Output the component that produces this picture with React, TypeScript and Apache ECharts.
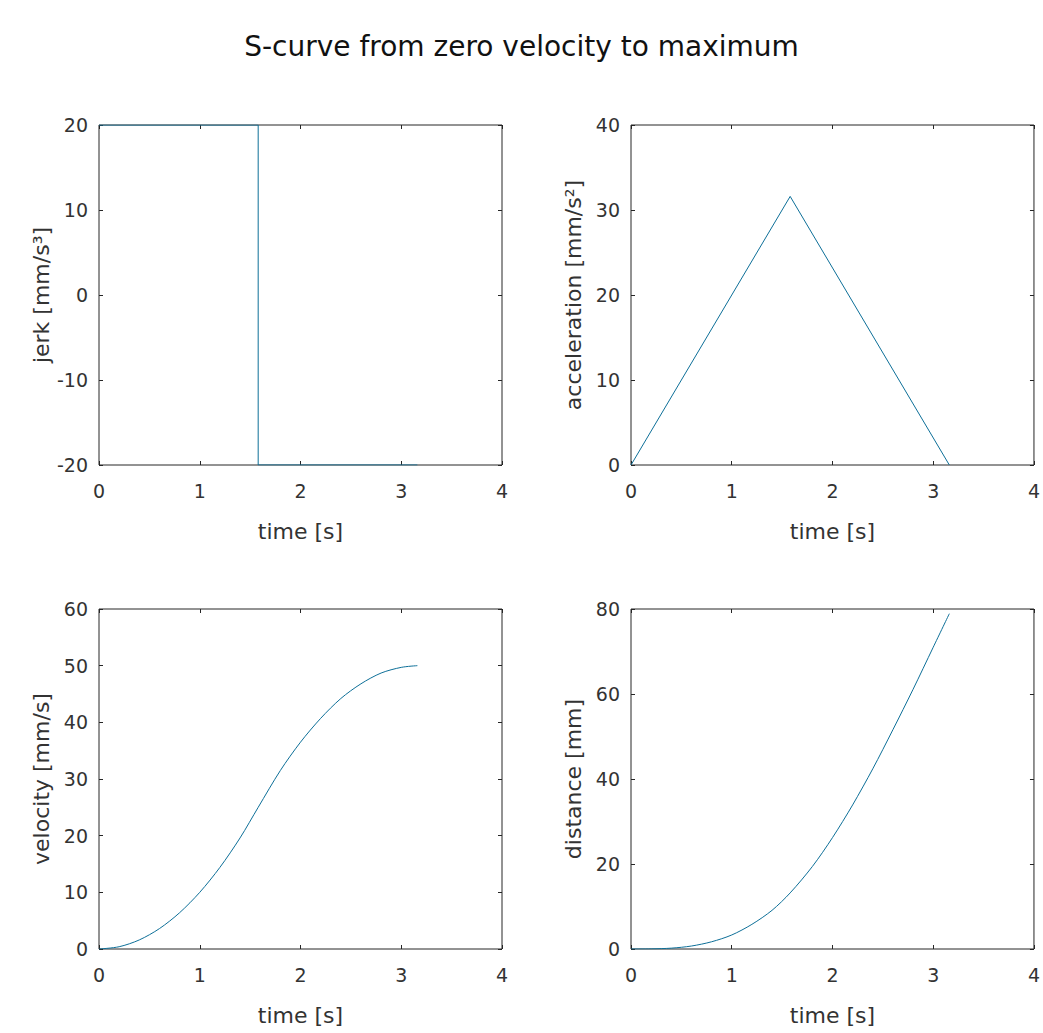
import React, { useEffect, useRef } from "react";
import * as echarts from "echarts";

const titleText = "S-curve from zero velocity to maximum";
const xName = "time [s]";

const jerkData: [number, number][] = [[0, 20], [1.58, 20], [1.58, -20], [3.16, -20]];
const accelData: [number, number][] = [[0, 0], [1.58, 31.6], [3.16, 0]];
const velTime = [0, 0.2, 0.4, 0.6, 0.8, 1.0, 1.2, 1.4, 1.58, 1.8, 2.0, 2.2, 2.4, 2.6, 2.8, 3.0, 3.16];
const velValues = [0, 0.4, 1.6, 3.6, 6.4, 10, 14.4, 19.6, 25, 31.5, 36.5, 40.7, 44.2, 46.8, 48.7, 49.7, 50];
const distTime = [0, 0.2, 0.4, 0.6, 0.8, 1.0, 1.2, 1.4, 1.58, 1.8, 2.0, 2.2, 2.4, 2.6, 2.8, 3.0, 3.16];
const distValues = [0, 0.03, 0.2, 0.7, 1.7, 3.3, 5.8, 9.1, 13.2, 19.4, 26.2, 33.9, 42.4, 51.6, 61.1, 71.0, 78.9];

const yNames = ["jerk [mm/s³]", "acceleration [mm/s²]", "velocity [mm/s]", "distance [mm]"];
const yRanges = [
  { min: -20, max: 20, interval: 10 },
  { min: 0, max: 40, interval: 10 },
  { min: 0, max: 60, interval: 10 },
  { min: 0, max: 80, interval: 20 },
];

const FONT = "DejaVu Sans, sans-serif";
const LINE = "#0d6f98";
const AX = "#262626";
const TXT = "#333333";

export default function App() {
  const ref = useRef<HTMLDivElement>(null);
  useEffect(() => {
    if (!ref.current) return;
    const chart = echarts.init(ref.current, null, { renderer: "svg" });
    const boxes = [
      { left: 99, top: 125 },
      { left: 631, top: 125 },
      { left: 99, top: 609 },
      { left: 631, top: 609 },
    ];
    const W = 403, H = 340;
    const grids = boxes.map((b) => ({
      left: b.left, top: b.top, width: W, height: H,
      show: true, borderColor: AX, borderWidth: 1, backgroundColor: "#fff",
    }));
    const xAxes: any[] = [];
    const yAxes: any[] = [];
    const tick = { show: true, inside: true, length: 4, lineStyle: { color: AX } };
    boxes.forEach((_, i) => {
      xAxes.push({
        type: "value", gridIndex: i, min: 0, max: 4, interval: 1,
        position: "bottom",
        name: xName, nameLocation: "middle", nameGap: 55,
        nameTextStyle: { fontFamily: FONT, fontSize: 22, color: TXT },
        axisLine: { show: false, onZero: false },
        axisTick: tick,
        axisLabel: { fontFamily: FONT, fontSize: 19, color: TXT, margin: 16 },
        splitLine: { show: false },
      });
      xAxes.push({
        type: "value", gridIndex: i, min: 0, max: 4, interval: 1,
        position: "top",
        axisLine: { show: false, onZero: false },
        axisTick: tick,
        axisLabel: { show: false },
        splitLine: { show: false },
      });
      const r = yRanges[i];
      yAxes.push({
        type: "value", gridIndex: i, min: r.min, max: r.max, interval: r.interval,
        position: "left",
        name: yNames[i], nameLocation: "middle", nameGap: 47,
        nameTextStyle: { fontFamily: FONT, fontSize: 22, color: TXT },
        axisLine: { show: false, onZero: false },
        axisTick: tick,
        axisLabel: { fontFamily: FONT, fontSize: 19, color: TXT, margin: 11 },
        splitLine: { show: false },
      });
      yAxes.push({
        type: "value", gridIndex: i, min: r.min, max: r.max, interval: r.interval,
        position: "right",
        axisLine: { show: false, onZero: false },
        axisTick: tick,
        axisLabel: { show: false },
        splitLine: { show: false },
      });
    });
    const mk = (i: number, data: [number, number][], smooth = false) => ({
      type: "line", xAxisIndex: i * 2, yAxisIndex: i * 2, data,
      showSymbol: false, symbol: "none", lineStyle: { color: LINE, width: 1 },
      smooth: smooth ? 0.3 : false,
      z: 5,
    });
    chart.setOption({
      animation: false,
      backgroundColor: "#fff",
      title: {
        text: titleText, left: "center", top: 27,
        textStyle: { fontFamily: FONT, fontSize: 28, fontWeight: "normal", color: "#111" },
      },
      grid: grids,
      xAxis: xAxes,
      yAxis: yAxes,
      series: [
        mk(0, jerkData),
        mk(1, accelData),
        mk(2, velTime.map((t, k) => [t, velValues[k]] as [number, number]), true),
        mk(3, distTime.map((t, k) => [t, distValues[k]] as [number, number]), true),
      ],
    });
    return () => chart.dispose();
  }, []);
  return <div ref={ref} style={{ width: 1043, height: 1033, position: "absolute", left: 0, top: 0 }} />;
}
